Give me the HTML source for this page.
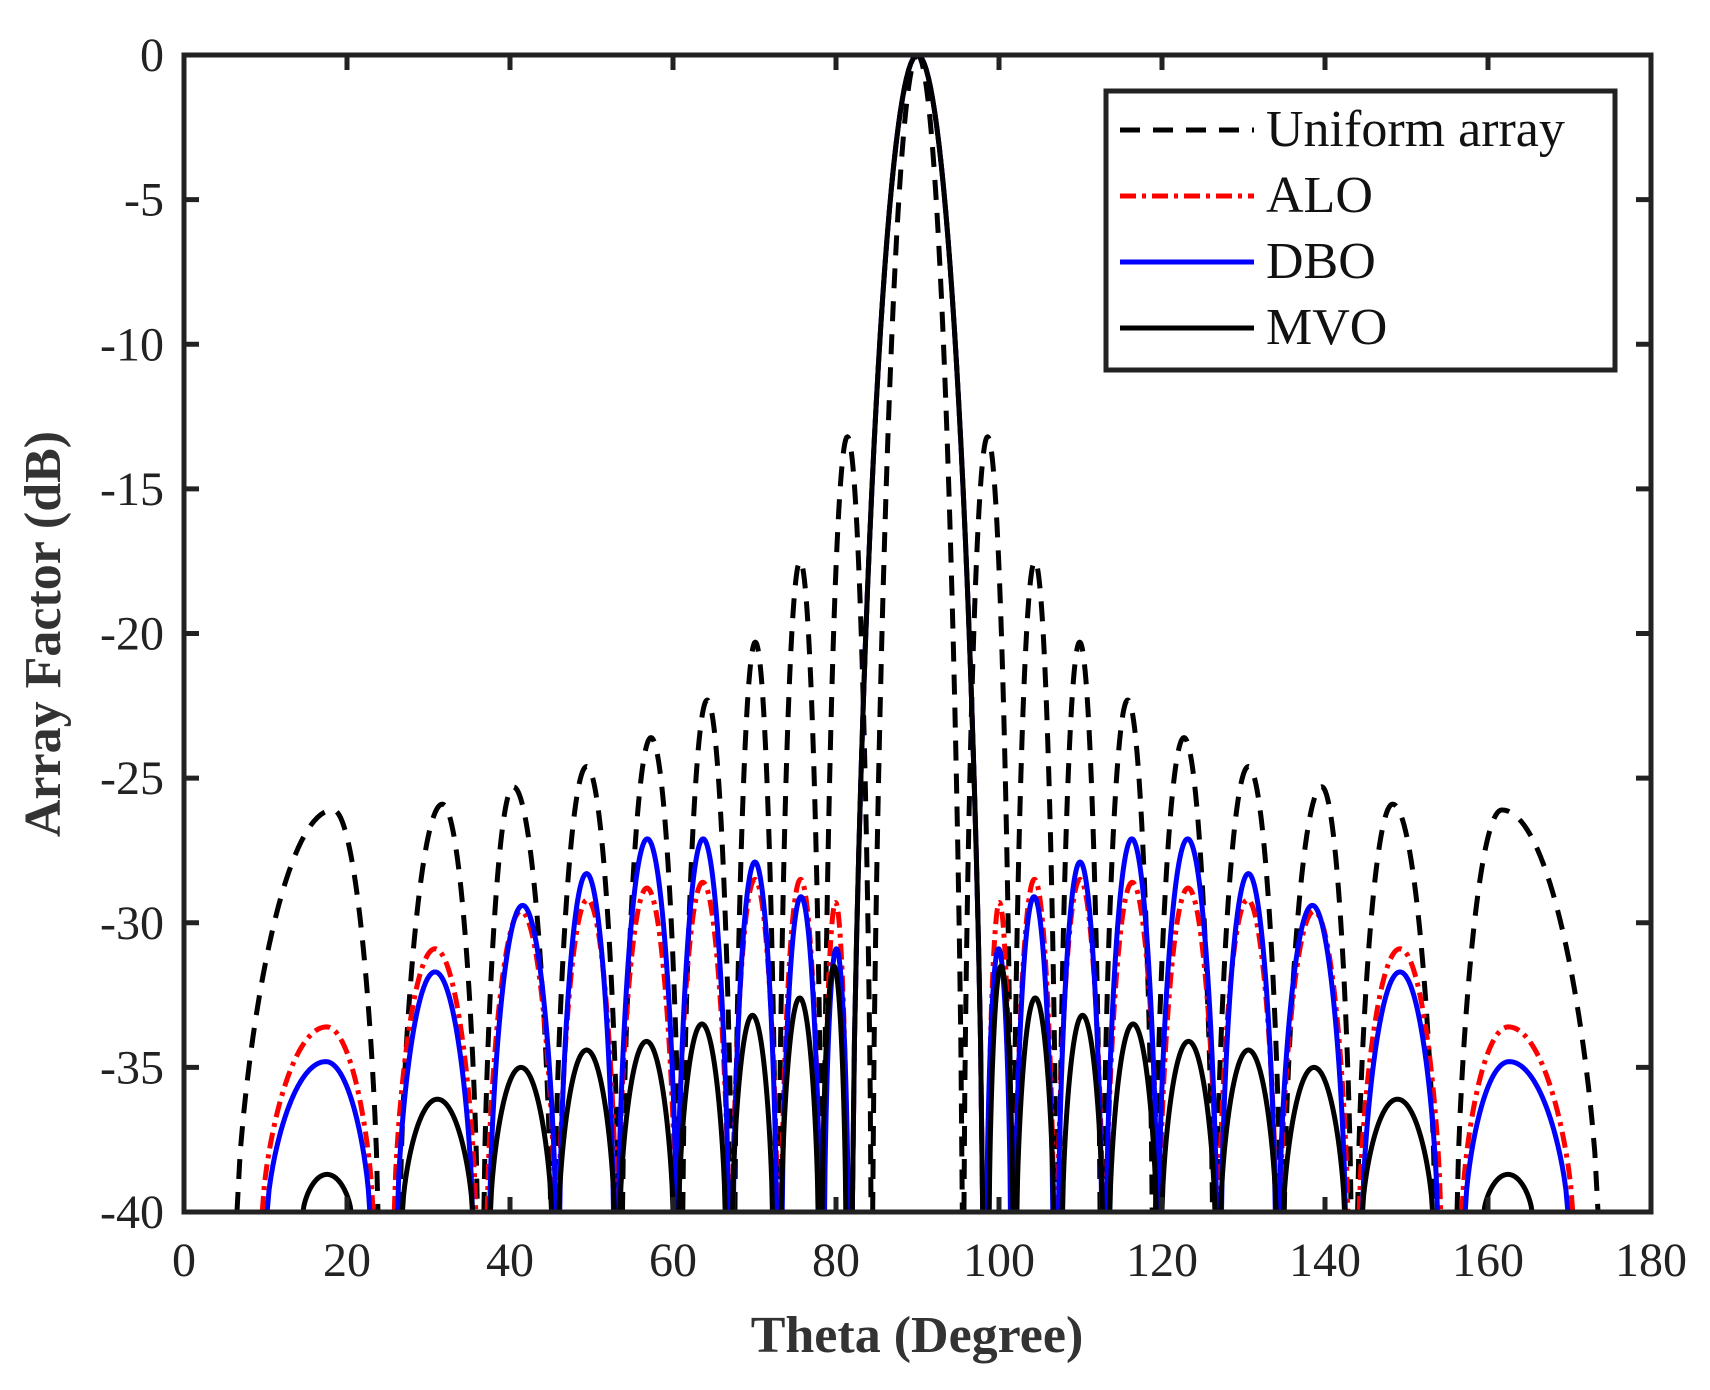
<!DOCTYPE html>
<html><head><meta charset="utf-8"><style>
html,body{margin:0;padding:0;background:#fff;}
svg{display:block;}
text{font-family:"Liberation Serif","DejaVu Serif",serif;fill:#222;}
</style></head><body>
<svg id="chart" width="1710" height="1390" viewBox="0 0 1710 1390" xmlns="http://www.w3.org/2000/svg" style="position:absolute;left:0;top:0">
<defs><clipPath id="plotclip"><rect x="184" y="40" width="1467" height="1172"/></clipPath></defs>
<g id="series" clip-path="url(#plotclip)"></g>
<g id="axes"></g>
<text x="917" y="1352" text-anchor="middle" font-size="52" font-weight="bold" style="fill:#333">Theta (Degree)</text>
<text transform="translate(60,634) rotate(-90)" text-anchor="middle" font-size="52" font-weight="bold" style="fill:#333">Array Factor (dB)</text>
<g>
<rect x="1106" y="91" width="509" height="279" fill="#fff" stroke="#222" stroke-width="5"/>
<g><line x1="1120" y1="130" x2="1254" y2="130" stroke="#000" stroke-width="5" stroke-dasharray="20 13"/><text x="1266" y="146" font-size="52" style="fill:#111">Uniform array</text></g>
<g><line x1="1120" y1="196" x2="1254" y2="196" stroke="#f00" stroke-width="5" stroke-dasharray="16 6 4 6"/><text x="1266" y="212" font-size="52" style="fill:#111">ALO</text></g>
<g><line x1="1120" y1="262" x2="1254" y2="262" stroke="#00f" stroke-width="5"/><text x="1266" y="278" font-size="52" style="fill:#111">DBO</text></g>
<g><line x1="1120" y1="328" x2="1254" y2="328" stroke="#000" stroke-width="5"/><text x="1266" y="344" font-size="52" style="fill:#111">MVO</text></g>
</g>
</svg>
<script>
// ---- data: lobes as [thetaStart(-40dB), thetaEnd(-40dB), peakDb, optional peakTheta] ----
const xTicks = [0,20,40,60,80,100,120,140,160,180];
const yTicks = [0,-5,-10,-15,-20,-25,-30,-35,-40];
const uniformLobes = [[6.5,23.8,-26.1,18.3],[26.5,36,-25.9,31.7],[36.8,45,-25.3,40.4],[45.5,53.3,-24.6],[53.8,60.8,-23.6],[61.2,67.2,-22.3],[67.6,72.6,-20.3],[73,78.2,-17.5],[78.5,84.3,-13.2],[84.5,95.5,0],
  [95.7,101.5,-13.2],[101.8,107,-17.5],[107.4,112.4,-20.3],[112.8,118.8,-22.3],[119.2,126.2,-23.6],[126.7,134.5,-24.6],[135,143.2,-25.3,139.6],[144,153.5,-25.9,148.3],[156.2,173.5,-26.1,161.7]];
const aloLobes = [[9.6,23.2,-33.6,17.5],[25.8,35.8,-30.9],[37.2,45.5,-29.6],[46,53,-29.2],[53.3,60.3,-28.8],[60.5,66.8,-28.6],[67.3,72.8,-28.5],[73.3,78,-28.5],[78.5,81.4,-29.3],[82,98,0],
  [98.6,101.5,-29.3],[102,106.7,-28.5],[107.2,112.7,-28.5],[113.2,119.5,-28.6],[119.7,126.7,-28.8],[127,134,-29.2],[134.5,142.8,-29.6],[144.2,154.2,-30.9],[156.8,170.4,-33.6,162.5]];
const dboLobes = [[10.2,22.8,-34.8,17.4],[26.2,35.4,-31.7],[37.5,45.6,-29.4],[46.1,52.7,-28.3],[53.3,60.4,-27.1],[60.6,66.8,-27.1],[67.4,72.7,-27.9],[73.4,78,-29.1],[78.6,81.5,-30.9],[82,98,0],
  [98.5,101.4,-30.9],[102,106.6,-29.1],[107.3,112.6,-27.9],[113.2,119.4,-27.1],[119.6,126.7,-27.1],[127.3,133.9,-28.3],[134.4,142.5,-29.4],[144.6,153.8,-31.7],[157.2,169.8,-34.8,162.6]];
const mvoLobes = [[14.6,20.5,-38.7],[26.8,35.4,-36.1],[37.6,45.1,-35],[46,52.8,-34.4],[53.5,60,-34.1],[60.7,66.4,-33.5],[67.3,72.2,-33.2],[73.3,77.8,-32.6],[78.3,81.2,-31.5],[82,98,0],
  [98.8,101.7,-31.5],[102.2,106.7,-32.6],[107.8,112.7,-33.2],[113.6,119.3,-33.5],[120,126.5,-34.1],[127.2,134,-34.4],[134.9,142.4,-35],[144.6,153.2,-36.1],[159.5,165.4,-38.7]];

const X0=184, X1=1651, Y0=55, Y1=1212;
const xs = t => X0 + (t-0)/(180-0)*(X1-X0);
const ys = d => Y0 + (0-d)/(0-(-40))*(Y1-Y0);
const NS='http://www.w3.org/2000/svg';
function mk(tag,attrs,parent){const e=document.createElementNS(NS,tag);for(const k in attrs)e.setAttribute(k,attrs[k]);parent.appendChild(e);return e;}

function lobePath(l){
  const a=l[0], b=l[1], p=l[2];
  const c = (l.length>3) ? l[3] : (a+b)/2;
  const n=60; let d='';
  for(let i=0;i<=n;i++){
    const s=i/n; let t,u;
    if(s<0.5){ t=a+(c-a)*(s*2); u=(t-c)/(c-a); }
    else { t=c+(b-c)*((s-0.5)*2); u=(t-c)/(b-c); }
    const g=Math.pow(Math.max(0,1-u*u),0.7);
    const v=-40+(p+40)*g;
    d+=(i?'L':'M')+xs(t).toFixed(2)+' '+ys(v).toFixed(2);
  }
  return d;
}
const seriesG=document.getElementById('series');
function drawSeries(lobes,name,color,dash){
  const g=mk('g',{},seriesG);
  
  
  lobes.forEach((l)=>{
    const p=mk('path',{d:lobePath(l),fill:'none',stroke:color,'stroke-width':5,'stroke-dasharray':dash,'stroke-linejoin':'round'},g);
    
    
  });
}
drawSeries(uniformLobes,'uniform-array-line','#000','20 13');
drawSeries(aloLobes,'alo-line','#f00','16 6 4 6');
drawSeries(dboLobes,'dbo-line','#00f','none');
drawSeries(mvoLobes,'mvo-line','#000','none');

const axes=document.getElementById('axes');
const frame=mk('rect',{x:X0,y:Y0,width:X1-X0,height:Y1-Y0,fill:'none',stroke:'#222','stroke-width':5},axes);


xTicks.forEach(t=>{
  const x=xs(t);
  mk('line',{x1:x,y1:Y1,x2:x,y2:Y1-15,stroke:'#222','stroke-width':5},axes);
  mk('line',{x1:x,y1:Y0,x2:x,y2:Y0+15,stroke:'#222','stroke-width':5},axes);
  const tx=mk('text',{x:x,y:1276,'text-anchor':'middle','font-size':48},axes);
  tx.textContent=t;
  
  
});
yTicks.forEach(v=>{
  const y=ys(v);
  mk('line',{x1:X0,y1:y,x2:X0+15,y2:y,stroke:'#222','stroke-width':5},axes);
  mk('line',{x1:X1,y1:y,x2:X1-15,y2:y,stroke:'#222','stroke-width':5},axes);
  const tx=mk('text',{x:164,y:y+16,'text-anchor':'end','font-size':48},axes);
  tx.textContent=v;
  
  
});
</script>
</body></html>
